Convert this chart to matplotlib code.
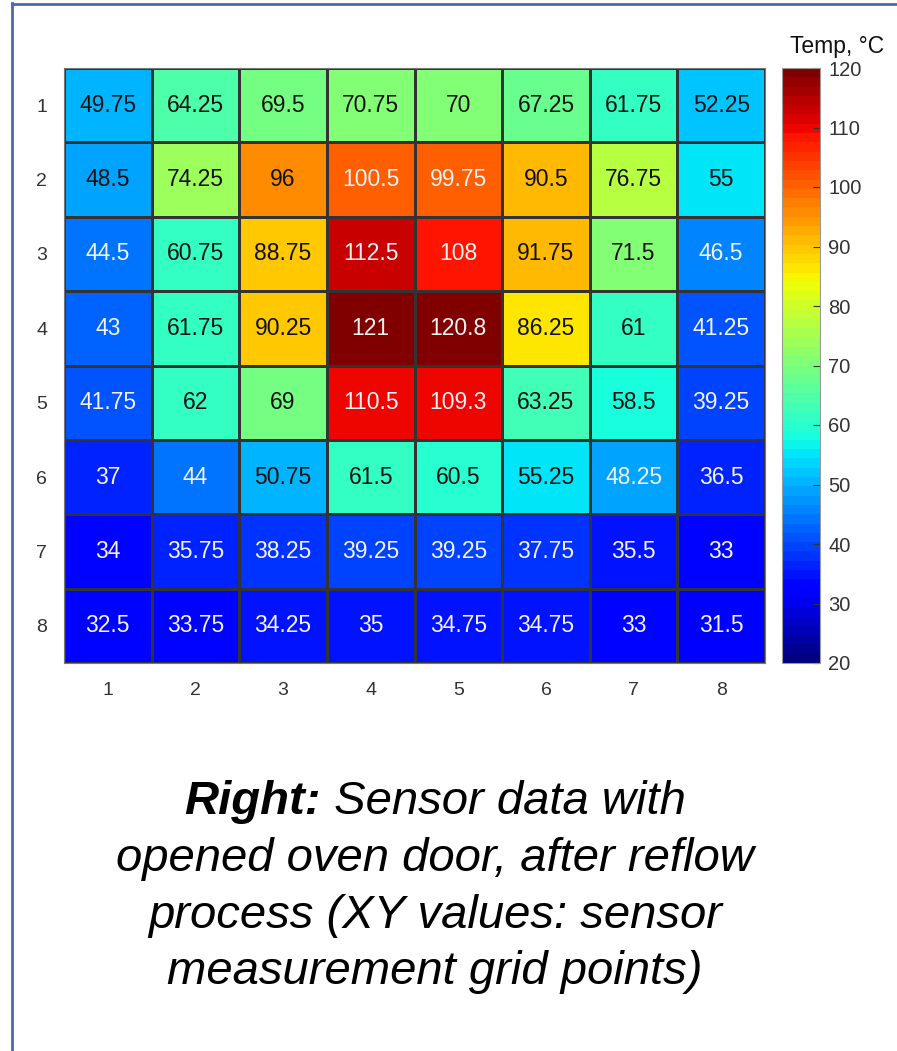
import numpy as np
import matplotlib
matplotlib.use("Agg")
import matplotlib.pyplot as plt
from matplotlib.colors import Normalize
from matplotlib.lines import Line2D

plt.rcParams['font.family'] = ['Liberation Sans', 'DejaVu Sans']

x_labels = ['1', '2', '3', '4', '5', '6', '7', '8']
y_labels = ['1', '2', '3', '4', '5', '6', '7', '8']
row1 = [49.75, 64.25, 69.5, 70.75, 70, 67.25, 61.75, 52.25]
row2 = [48.5, 74.25, 96, 100.5, 99.75, 90.5, 76.75, 55]
row3 = [44.5, 60.75, 88.75, 112.5, 108, 91.75, 71.5, 46.5]
row4 = [43, 61.75, 90.25, 121, 120.8, 86.25, 61, 41.25]
row5 = [41.75, 62, 69, 110.5, 109.3, 63.25, 58.5, 39.25]
row6 = [37, 44, 50.75, 61.5, 60.5, 55.25, 48.25, 36.5]
row7 = [34, 35.75, 38.25, 39.25, 39.25, 37.75, 35.5, 33]
row8 = [32.5, 33.75, 34.25, 35, 34.75, 34.75, 33, 31.5]
cbar_ticks = [20, 30, 40, 50, 60, 70, 80, 90, 100, 110, 120]
cbar_label = 'Temp, °C'

data = np.array([row1, row2, row3, row4, row5, row6, row7, row8])

W, H = 897, 1051
fig = plt.figure(figsize=(W / 100, H / 100), dpi=100)

def fx(px):
    return px / W

def fy(py):
    return 1 - py / H

ax = fig.add_axes([fx(64), fy(663), fx(765) - fx(64), fy(68) - fy(663)])
cmap = plt.get_cmap('jet', 64)
norm = Normalize(vmin=20, vmax=120)
mesh = ax.pcolormesh(np.arange(9) + 0.5, np.arange(9) + 0.5, data, cmap=cmap, norm=norm,
                     edgecolor='#333333', linewidth=0.75)
ax.set_xlim(0.5, 8.5)
ax.set_ylim(8.5, 0.5)
ax.set_xticks(np.arange(1, 9))
ax.set_xticklabels(x_labels)
ax.set_yticks(np.arange(1, 9))
ax.set_yticklabels(y_labels)
ax.tick_params(length=0, labelsize=14, colors='#333333')
ax.tick_params(axis='x', pad=14)
ax.tick_params(axis='y', pad=12)
for s in ax.spines.values():
    s.set_color('#777777')
    s.set_linewidth(0.8)

for i in range(8):
    for j in range(8):
        v = data[i, j]
        col = '#f2f2f2' if (v < 48.4 or v > 97) else '#111111'
        ax.text(j + 1, i + 1, f'{v:g}', ha='center', va='center', fontsize=16.5, color=col)

cax = fig.add_axes([fx(782), fy(663), fx(820) - fx(782), fy(68) - fy(663)])
cb = fig.colorbar(mesh, cax=cax, ticks=cbar_ticks)
cb.outline.set_edgecolor('#999999')
cb.outline.set_linewidth(0.8)
cax.tick_params(direction='in', length=5, width=0.8, color='#333333', labelsize=14.5,
                labelcolor='#333333', pad=6)
fig.text(fx(837), fy(47), cbar_label, ha='center', va='center', fontsize=16.5, color='#111111')

# frame border
border_col = '#4a69a5'
fig.add_artist(Line2D([fx(11.5), fx(11.5)], [fy(3), 0], transform=fig.transFigure,
                      color=border_col, linewidth=2))
fig.add_artist(Line2D([fx(11.5), 1], [fy(4), fy(4)], transform=fig.transFigure,
                      color=border_col, linewidth=2))

# caption
cx = fx(435)
lines_y = [fy(802), fy(859), fy(916), fy(972)]
fs = 34
fig.canvas.draw()
renderer = fig.canvas.get_renderer()
t1 = fig.text(0, lines_y[0], 'Right:', fontsize=fs, fontstyle='italic', fontweight='bold',
              va='center', ha='left', color='black')
t2 = fig.text(0, lines_y[0], ' Sensor data with', fontsize=fs, fontstyle='italic',
              va='center', ha='left', color='black')
w1 = t1.get_window_extent(renderer).width / W
w2 = t2.get_window_extent(renderer).width / W
start = cx - (w1 + w2) / 2
t1.set_x(start)
t2.set_x(start + w1)
for txt, yy in zip(['opened oven door, after reflow', 'process (XY values: sensor',
                    'measurement grid points)'], lines_y[1:]):
    fig.text(cx, yy, txt, fontsize=fs, fontstyle='italic', ha='center', va='center', color='black')

fig.savefig('out.png', dpi=100)
